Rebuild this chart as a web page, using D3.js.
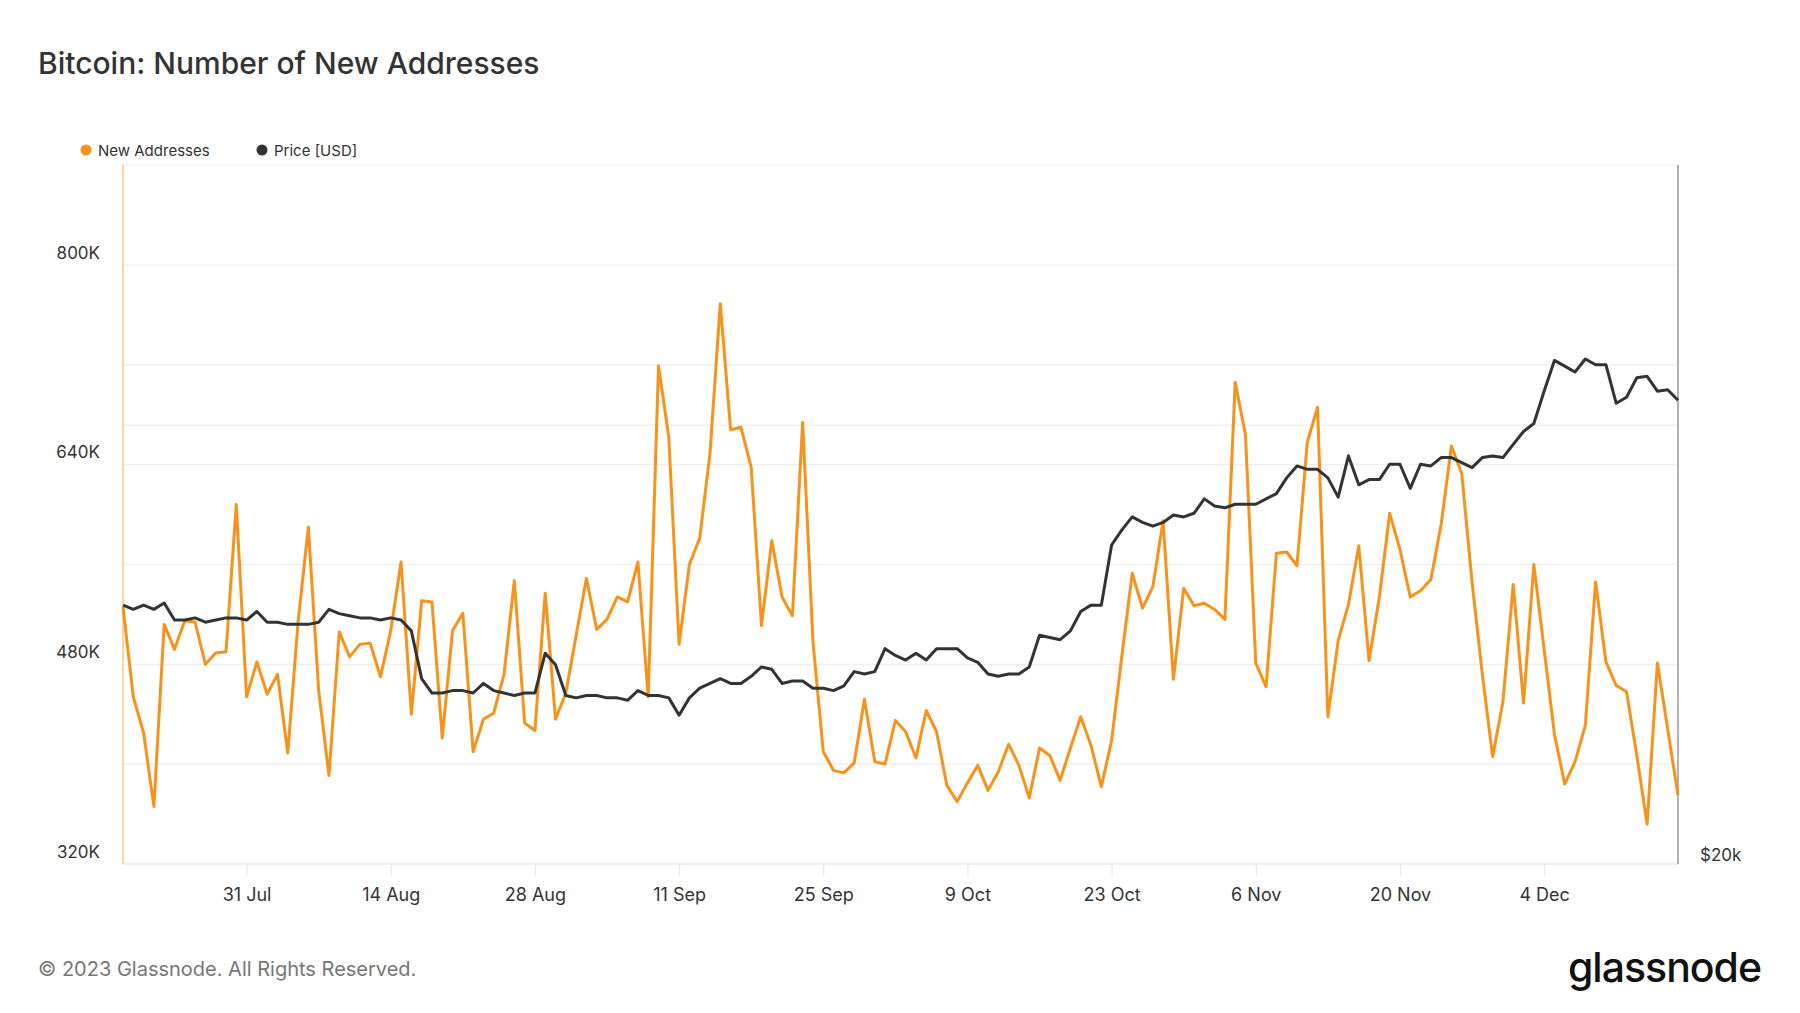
<!DOCTYPE html>
<html><head><meta charset="utf-8">
<script src="https://cdn.jsdelivr.net/npm/d3@7"></script>
<style>body{margin:0;background:#fff;font-family:Inter,"Noto Sans",sans-serif;}</style>
</head><body><svg id="c" width="1800" height="1013"></svg>
<script>
const startDate = "2023-07-19";
const newAddresses = [526,454,425,366,512,492,515,514,480,489,490,608,454,482,456,472,409,514,590,459,391,506,486,496,497,470,507,562,440,531,530,421,507,521,410,436,441,472,547,433,427,
537,436,457,503,549,508,516,534,530,562,454,719,662,496,560,581,649,769,668,670,638,511,579,534,519,674,498,410,395,393,401,452,402,400,435,426,405,443,426,
383,370,385,399,379,394,416,399,373,413,407,387,413,438,415,382,419,487,553,525,542,595,468,541,527,529,524,516,706,664,481,462,569,570,559,658,686,438,499,
528,575,483,534,601,572,534,539,548,592,655,633,546,472,406,450,544,449,560,492,424,384,402,431,546,482,463,458,407,352,481,428,375];
const priceK = [30.1,29.9,30.1,29.9,30.2,29.4,29.4,29.5,29.3,29.4,29.5,29.5,29.4,29.8,29.3,29.3,29.2,29.2,29.2,29.3,29.9,29.7,29.6,29.5,29.5,29.4,29.5,29.4,28.9,26.8,26.2,26.2,26.3,26.3,26.2,26.6,26.3,26.2,26.1,26.2,26.2,
27.9,27.4,26.1,26.0,26.1,26.1,26.0,26.0,25.9,26.3,26.1,26.1,26.0,25.3,26.0,26.4,26.6,26.8,26.6,26.6,26.9,27.3,27.2,26.6,26.7,26.7,26.4,26.4,26.3,26.5,27.1,27.0,27.1,28.1,27.8,27.6,27.9,27.6,28.1,
28.1,28.1,27.7,27.5,27.0,26.9,27.0,27.0,27.3,28.7,28.6,28.5,28.9,29.8,30.1,30.1,33.1,33.9,34.6,34.3,34.1,34.3,34.7,34.6,34.8,35.6,35.2,35.1,35.3,35.3,35.3,35.6,35.9,36.8,37.5,37.3,37.3,36.8,35.7,
38.1,36.4,36.7,36.7,37.6,37.6,36.2,37.6,37.5,38.0,38.0,37.7,37.4,38.0,38.1,38.0,38.8,39.6,40.1,42.2,44.3,43.9,43.5,44.4,44.0,44.0,41.4,41.8,43.1,43.2,42.2,42.3,41.6];
const leftTicks = [320000,480000,640000,800000];
const leftGrid = [400000,480000,560000,640000,720000,800000];
const priceGrid = [40000];
const xTicks = ["2023-07-31","2023-08-14","2023-08-28","2023-09-11","2023-09-25","2023-10-09","2023-10-23","2023-11-06","2023-11-20","2023-12-04"];

const parse = d3.utcParse("%Y-%m-%d");
const t0 = parse(startDate);
const dates = newAddresses.map((_, i) => d3.utcDay.offset(t0, i));
const svg = d3.select("#c");
const L = 123, R = 1678, T = 165, B = 864;
const x = d3.scaleUtc().domain([dates[0], dates[dates.length-1]]).range([L, R]);
const y = d3.scaleLinear().domain([320000, 800000]).range([B, 265]);
const yp = d3.scaleLog().domain([20000, 44400]).range([B, 359]);

const g = svg.append("g");
g.selectAll(".gl").data(leftGrid).join("line").attr("x1", L).attr("x2", R)
  .attr("y1", d => y(d)).attr("y2", d => y(d)).attr("stroke", "#eeeeee").attr("stroke-width", 1.2);
g.selectAll(".gp").data(priceGrid).join("line").attr("x1", L).attr("x2", R)
  .attr("y1", d => yp(d)).attr("y2", d => yp(d)).attr("stroke", "#eeeeee").attr("stroke-width", 1.2);
g.append("line").attr("x1", L).attr("x2", R).attr("y1", T).attr("y2", T).attr("stroke", "#eeeeee");
g.append("line").attr("x1", L).attr("x2", R).attr("y1", B).attr("y2", B).attr("stroke", "#dddddd");
g.append("line").attr("x1", L).attr("x2", L).attr("y1", T).attr("y2", B).attr("stroke", "#fbc98a").attr("stroke-width", 1.5);
g.append("line").attr("x1", R).attr("x2", R).attr("y1", T).attr("y2", B).attr("stroke", "#999").attr("stroke-width", 1.5);

const xAxis = d3.axisBottom(x).tickValues(xTicks.map(parse)).tickFormat(d3.utcFormat("%-d %b")).tickSize(12).tickPadding(12);
const xa = svg.append("g").attr("transform", `translate(0,${B})`).call(xAxis);
xa.select(".domain").remove();
xa.selectAll("line").attr("stroke", "#e6e6e6");
xa.selectAll("text").attr("font-size", 18).attr("fill", "#333").attr("font-family", "Inter");

const ya = svg.append("g").attr("transform", `translate(${L - 20},0)`)
  .call(d3.axisLeft(y).tickValues(leftTicks).tickFormat(d => (d/1000) + "K").tickSize(0));
ya.select(".domain").remove();
ya.selectAll("text").attr("font-size", 17).attr("fill", "#333").attr("font-family", "Inter").attr("dy", "-0.4em");

svg.append("text").attr("x", R + 22).attr("y", B).attr("dy", "-0.2em").attr("font-size", 17).attr("fill", "#333").text("$20k");

g.append("path").datum(newAddresses).attr("fill", "none").attr("stroke", "#f7931a").attr("stroke-width", 3)
  .attr("stroke-linejoin", "round").attr("d", d3.line().x((d, i) => x(dates[i])).y(d => y(d * 1000)));
g.append("path").datum(priceK).attr("fill", "none").attr("stroke", "#333333").attr("stroke-width", 3)
  .attr("stroke-linejoin", "round").attr("d", d3.line().x((d, i) => x(dates[i])).y(d => yp(d * 1000)));

svg.append("text").attr("x", 38).attr("y", 74).attr("font-size", 30).attr("fill", "#333").attr("font-weight", 500).text("Bitcoin: Number of New Addresses");
const legend = [{n: "New Addresses", c: "#f7931a", x: 86}, {n: "Price [USD]", c: "#333", x: 262}];
legend.forEach(l => {
  svg.append("circle").attr("cx", l.x).attr("cy", 150).attr("r", 5.5).attr("fill", l.c);
  svg.append("text").attr("x", l.x + 12).attr("y", 156).attr("font-size", 15).attr("fill", "#333").text(l.n);
});
svg.append("text").attr("x", 38).attr("y", 976).attr("font-size", 20).attr("fill", "#777").text("© 2023 Glassnode. All Rights Reserved.");
svg.append("text").attr("x", 1761).attr("y", 982).attr("text-anchor", "end").attr("font-size", 41).attr("font-weight", 500).attr("letter-spacing", -1).attr("fill", "#111").text("glassnode");
</script></body></html>
